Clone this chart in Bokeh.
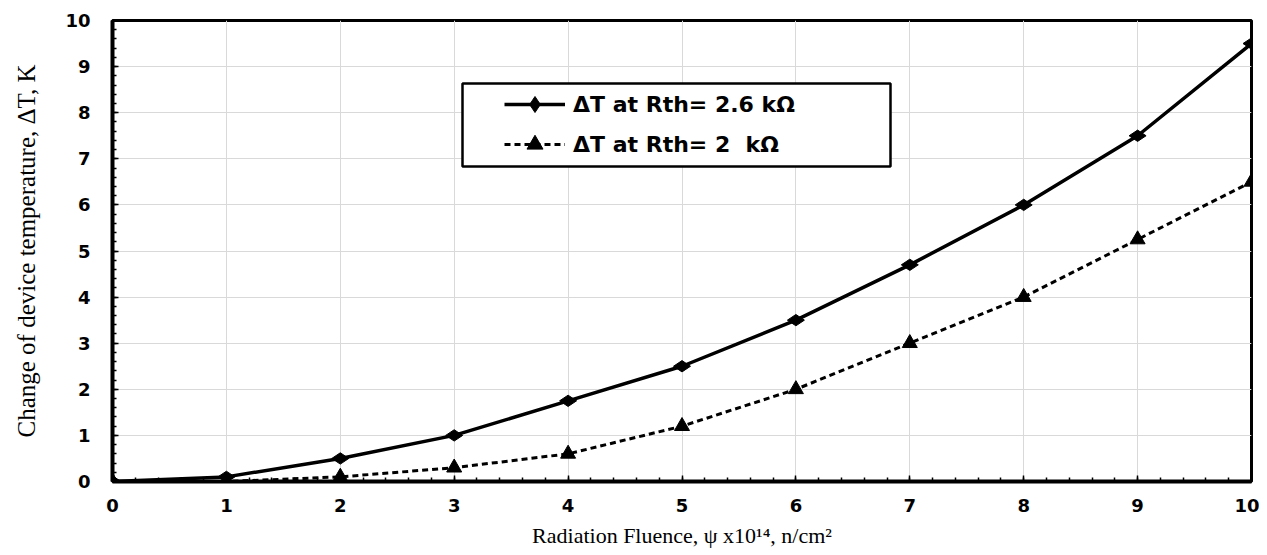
import math
from bokeh.plotting import figure
from bokeh.models import (Range1d, SingleIntervalTicker, Legend, LegendItem,
                          BoxAnnotation)
from bokeh.embed import file_html
from bokeh.resources import INLINE

# ---- data ----
fluence = [0, 1, 2, 3, 4, 5, 6, 7, 8, 9, 10]
dT_rth_26 = [0, 0.1, 0.5, 1.0, 1.75, 2.5, 3.5, 4.7, 6.0, 7.5, 9.5]
dT_rth_20 = [0, 0.0, 0.1, 0.3, 0.6, 1.2, 2.0, 3.0, 4.0, 5.25, 6.5]
label_26 = "ΔT at Rth= 2.6 kΩ"
label_20 = "ΔT at Rth= 2  kΩ"
x_title = "Radiation Fluence, ψ x10¹⁴, n/cm²"
y_title = "Change of device temperature, ΔT, K"

p = figure(width=1259, height=553, output_backend="svg", toolbar_location=None,
           x_range=Range1d(0, 10), y_range=Range1d(0, 10),
           min_border_left=112, min_border_right=8, min_border_top=20,
           min_border_bottom=72)
p.background_fill_color = "white"
p.border_fill_color = "white"
p.outline_line_color = "black"
p.outline_line_width = 3

# grid
for g in (p.xgrid, p.ygrid):
    g.grid_line_color = "#d9d9d9"
    g.grid_line_width = 1

# axes
for ax in (p.xaxis, p.yaxis):
    ax.ticker = SingleIntervalTicker(interval=1, num_minor_ticks=5)
    ax.axis_line_width = 4
    ax.axis_line_color = "black"
    ax.major_tick_in = 6
    ax.major_tick_out = 0
    ax.minor_tick_in = 4
    ax.minor_tick_out = 0
    ax.major_tick_line_width = 1.5
    ax.minor_tick_line_width = 1.5
    ax.major_tick_line_color = "black"
    ax.minor_tick_line_color = "black"
    ax.major_label_text_font = "DejaVu Sans"
    ax.major_label_text_font_style = "bold"
    ax.major_label_text_font_size = "18px"
    ax.major_label_text_color = "black"
    ax.axis_label_text_font = "Liberation Serif"
    ax.axis_label_text_font_style = "normal"
    ax.axis_label_text_color = "black"

p.xaxis.major_label_standoff = 17
p.yaxis.major_label_standoff = 22
p.xaxis.axis_label = x_title
p.xaxis.axis_label_text_font_size = "22px"
p.xaxis.axis_label_standoff = 8
p.yaxis.axis_label = y_title
p.yaxis.axis_label_text_font_size = "25px"
p.yaxis.axis_label_standoff = 22

# series
l1 = p.line(fluence, dT_rth_26, line_color="black", line_width=3.5)
m1 = p.scatter(fluence, dT_rth_26, marker="diamond", size=17, angle=math.pi / 2,
               fill_color="black", line_color="black")
l2 = p.line(fluence, dT_rth_20, line_color="black", line_width=3, line_dash="6 4")
m2 = p.scatter(fluence, dT_rth_20, marker="triangle", size=15,
               fill_color="black", line_color="black")

# legend box
box = BoxAnnotation(left=350, right=778, bottom=315, top=398,
                    left_units="screen", right_units="screen",
                    bottom_units="screen", top_units="screen",
                    fill_color="white", fill_alpha=1.0,
                    line_color="black", line_alpha=1.0, line_width=2.5)
p.add_layout(box)

legend = Legend(items=[LegendItem(label=label_26, renderers=[l1, m1]),
                       LegendItem(label=label_20, renderers=[l2, m2])],
                location=(392, 317), margin=0, padding=0, spacing=0,
                glyph_width=61, glyph_height=40, label_height=40,
                label_standoff=8, border_line_color=None,
                background_fill_alpha=0.0,
                label_text_font="DejaVu Sans", label_text_font_style="bold",
                label_text_font_size="22px", label_text_color="black")
p.add_layout(legend)

open("out.html", "w").write(file_html(p, INLINE))
